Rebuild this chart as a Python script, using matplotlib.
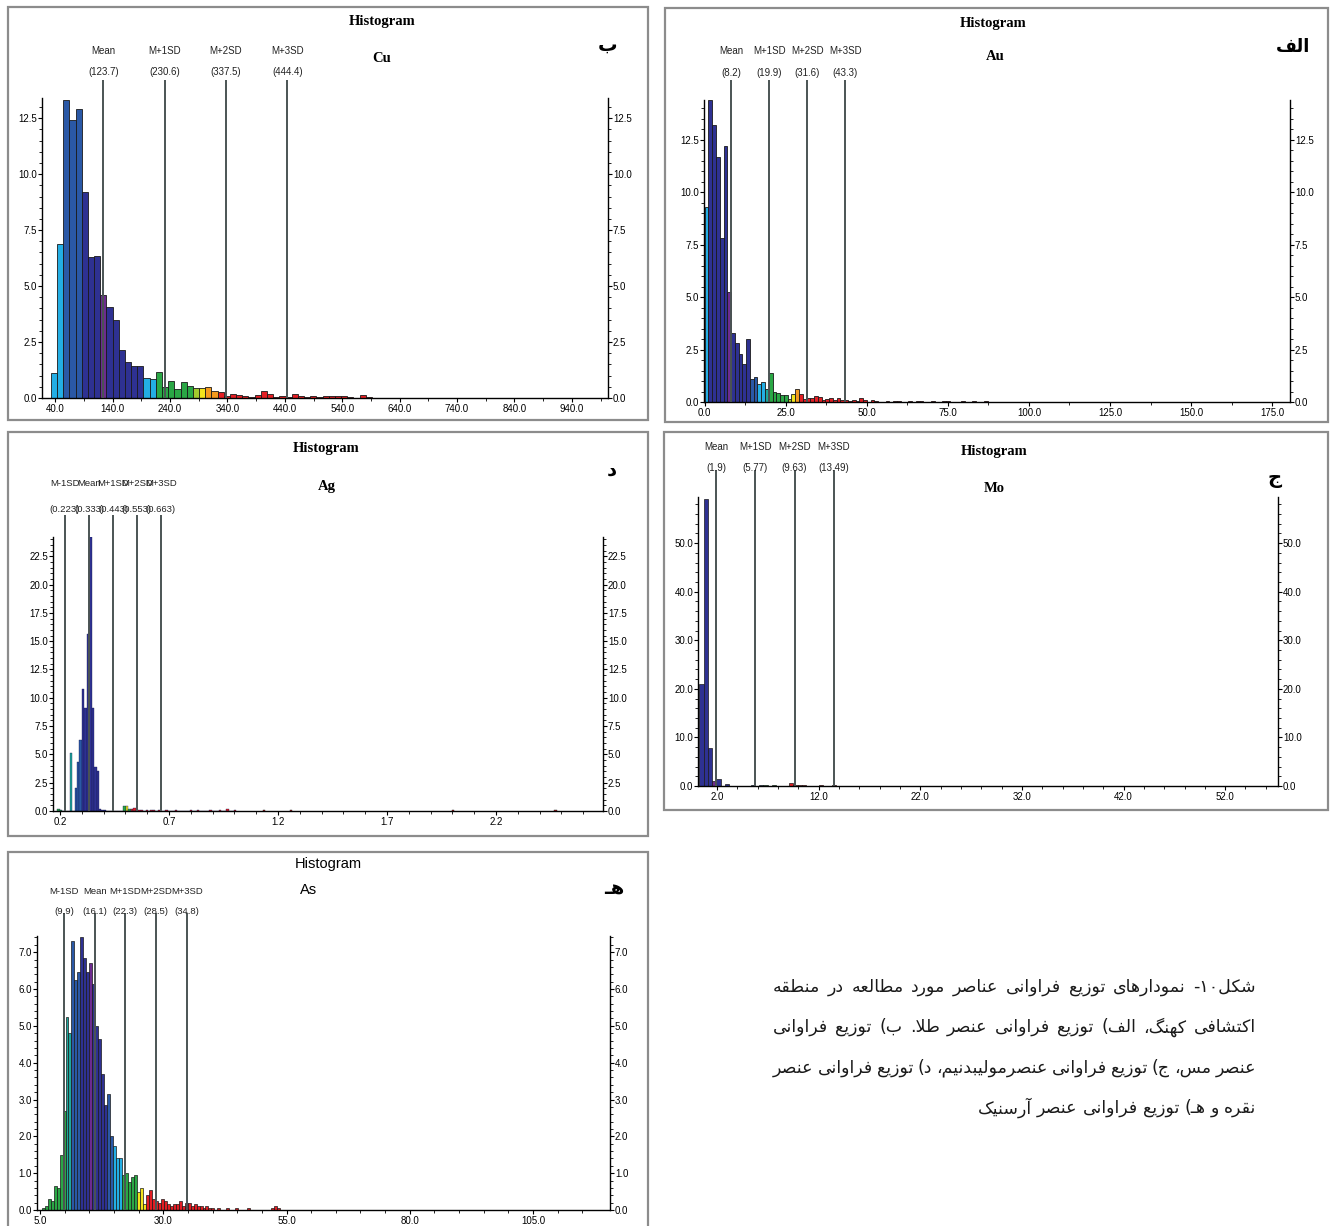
import numpy as np
import matplotlib
matplotlib.use('Agg')
import matplotlib.pyplot as plt
from matplotlib.patches import Rectangle
from matplotlib.ticker import FixedLocator, MultipleLocator, FormatStrFormatter

plt.rcParams['font.family'] = ['Liberation Sans', 'DejaVu Sans']

W, H = 1332, 1226

# ---- data (frequency %, one value per class) ----
cu_start, cu_width = 32.4, 10.76
cu_counts = [1.1, 6.9, 13.3, 12.4, 12.9, 9.2, 6.3, 6.35, 4.6, 4.05, 3.5, 2.15, 1.6, 1.45, 1.45,
             0.9, 0.85, 1.15, 0.5, 0.75, 0.4, 0.7, 0.55, 0.45, 0.45, 0.5, 0.3, 0.25, 0.1, 0.2,
             0.12, 0.1, 0.05, 0.12, 0.3, 0.2, 0.05, 0.1, 0.05, 0.2, 0.1, 0.05, 0.1, 0.05, 0.1,
             0.1, 0.1, 0.1, 0.05, 0.0, 0.15, 0.05]
cu_stat_names = ['Mean', 'M+1SD', 'M+2SD', 'M+3SD']
cu_stat_vals = [123.7, 230.6, 337.5, 444.4]

au_start, au_width = 0.0, 1.163
au_counts = [9.3, 14.4, 13.2, 11.7, 7.8, 12.2, 5.25, 3.3, 2.8, 2.3, 1.8, 3.0, 1.1, 1.2, 0.85,
             0.95, 0.6, 1.4, 0.5, 0.45, 0.35, 0.35, 0.15, 0.4, 0.6, 0.4, 0.15, 0.2, 0.2, 0.3,
             0.25, 0.1, 0.15, 0.2, 0.1, 0.2, 0.1, 0.1, 0.05, 0.1, 0.05, 0.2, 0.1, 0.0, 0.1,
             0.05, 0.0, 0.0, 0.05, 0.0, 0.05, 0.05, 0.0, 0.0, 0.05, 0.0, 0.05, 0.05, 0.0, 0.0,
             0.05, 0.0, 0.0, 0.05, 0.05, 0.0, 0.0, 0.0, 0.05, 0.0, 0.0, 0.05, 0.0, 0.0, 0.05]
au_stat_names = ['Mean', 'M+1SD', 'M+2SD', 'M+3SD']
au_stat_vals = [8.2, 19.9, 31.6, 43.3]

ag_start, ag_width = 0.1881, 0.01123
ag_counts = [0.15, 0.05, 0.0, 0.0, 0.0, 5.1, 0.0, 2.0, 4.3, 6.3, 10.8, 9.1, 15.6, 24.2, 9.1,
             3.9, 3.5, 0.2, 0.1, 0.05, 0.0, 0.0, 0.0, 0.0, 0.0, 0.0, 0.0, 0.45, 0.4, 0.2,
             0.15, 0.3, 0.1, 0.05, 0.05, 0.0, 0.05, 0.0, 0.05, 0.05, 0.0, 0.05, 0.0, 0.0, 0.05,
             0.0, 0.0, 0.0, 0.05, 0.0, 0.0, 0.0, 0.0, 0.0, 0.05, 0.0, 0.0, 0.05, 0.0, 0.0,
             0.0, 0.0, 0.05, 0.0, 0.0, 0.0, 0.05, 0.0, 0.0, 0.2, 0.0, 0.0, 0.05]
ag_tail_bins = [84, 95, 161, 203]
ag_tail_counts = [0.05, 0.05, 0.05, 0.05]
ag_stat_names = ['M-1SD', 'Mean', 'M+1SD', 'M+2SD', 'M+3SD']
ag_stat_vals = [0.223, 0.333, 0.443, 0.553, 0.663]

mo_start, mo_width = 0.27, 0.42
mo_counts = [21.0, 59.0, 7.8, 1.0, 1.5, 0.0, 0.5, 0.1, 0.0, 0.1, 0.0, 0.1, 0.15, 0.1, 0.15,
             0.15, 0.1, 0.15, 0.1, 0.1, 0.1, 0.6, 0.3, 0.2, 0.15, 0.1, 0.1, 0.1, 0.15, 0.1,
             0.1, 0.15, 0.1]
mo_stat_names = ['Mean', 'M+1SD', 'M+2SD', 'M+3SD']
mo_stat_vals = [1.9, 5.77, 9.63, 13.49]

as_start, as_width = 5.35, 0.604
as_counts = [0.05, 0.1, 0.3, 0.25, 0.65, 0.6, 1.5, 2.7, 5.25, 4.8, 7.3, 6.25, 6.45, 7.4, 6.85,
             6.45, 6.7, 6.15, 5.0, 4.65, 3.7, 2.85, 3.15, 2.0, 1.75, 1.4, 1.4, 0.95, 1.0, 0.75,
             0.9, 0.95, 0.5, 0.6, 0.15, 0.4, 0.55, 0.3, 0.25, 0.2, 0.3, 0.25, 0.15, 0.1, 0.15,
             0.15, 0.25, 0.1, 0.2, 0.2, 0.1, 0.15, 0.1, 0.1, 0.05, 0.1, 0.05, 0.05, 0.0, 0.05,
             0.0, 0.0, 0.05, 0.0, 0.0, 0.05, 0.0, 0.0, 0.0, 0.05, 0.0, 0.0, 0.0, 0.0, 0.0,
             0.0, 0.0, 0.05, 0.1, 0.05]
as_stat_names = ['M-1SD', 'Mean', 'M+1SD', 'M+2SD', 'M+3SD']
as_stat_vals = [9.9, 16.1, 22.3, 28.5, 34.8]

# class colour codes (one letter per bar, the last letter repeats)
cu_codes = 'CCBBBNNNPNNNNNNCCGGGGGGLYOOR'
au_codes = 'CNNNNNPNNNNNBBCCTGGGGGLYOR'
ag_codes = 'GGGGGTTBBBNNNNNNNNNNNNNNNNNGYGR'
mo_codes = 'NNNPNNNBBBBBBBBGGGGGGR'
as_codes = 'GGGGGGGGTTBBBNNNPNNNNNBBCCCGGGGGYYYR'

PAL = {'C': '#23aee4', 'T': '#1ea79b', 'B': '#2a58a6', 'N': '#2e3192', 'P': '#6d2b8f',
       'G': '#2aa745', 'L': '#a3c92e', 'Y': '#f2e31c', 'O': '#f39a1e', 'R': '#e31e24'}

caption_lines = [
    'شکل۱۰- نمودارهای توزیع فراوانی عناصر مورد مطالعه در منطقه',
    'اکتشافی کهنگ، الف) توزیع فراوانی عنصر طلا. ب) توزیع فراوانی',
    'عنصر مس، ج) توزیع فراوانی عنصرمولیبدنیم، د) توزیع فراوانی عنصر',
    'نقره و هـ) توزیع فراوانی عنصر آرسنیک',
]

# ---- minimal Persian shaping (matplotlib has no complex text layout) ----
FORMS = {
    'ا': ('\uFE8D', '\uFE8E', None, None), 'آ': ('\uFE81', '\uFE82', None, None),
    'ب': ('\uFE8F', '\uFE90', '\uFE91', '\uFE92'), 'ت': ('\uFE95', '\uFE96', '\uFE97', '\uFE98'),
    'ج': ('\uFE9D', '\uFE9E', '\uFE9F', '\uFEA0'), 'د': ('\uFEA9', '\uFEAA', None, None),
    'ر': ('\uFEAD', '\uFEAE', None, None), 'ز': ('\uFEAF', '\uFEB0', None, None),
    'س': ('\uFEB1', '\uFEB2', '\uFEB3', '\uFEB4'), 'ش': ('\uFEB5', '\uFEB6', '\uFEB7', '\uFEB8'),
    'ص': ('\uFEB9', '\uFEBA', '\uFEBB', '\uFEBC'), 'ط': ('\uFEC1', '\uFEC2', '\uFEC3', '\uFEC4'),
    'ع': ('\uFEC9', '\uFECA', '\uFECB', '\uFECC'), 'ف': ('\uFED1', '\uFED2', '\uFED3', '\uFED4'),
    'ق': ('\uFED5', '\uFED6', '\uFED7', '\uFED8'), 'ل': ('\uFEDD', '\uFEDE', '\uFEDF', '\uFEE0'),
    'م': ('\uFEE1', '\uFEE2', '\uFEE3', '\uFEE4'), 'ن': ('\uFEE5', '\uFEE6', '\uFEE7', '\uFEE8'),
    'ه': ('\uFEE9', '\uFEEA', '\uFEEB', '\uFEEC'), 'و': ('\uFEED', '\uFEEE', None, None),
    'ی': ('\uFBFC', '\uFBFD', '\uFBFE', '\uFBFF'), 'ک': ('\uFB8E', '\uFB8F', '\uFB90', '\uFB91'),
    'گ': ('\uFB92', '\uFB93', '\uFB94', '\uFB95'), 'ـ': ('ـ', 'ـ', 'ـ', 'ـ'),
}


def shape(text):
    out = []
    prev_dual = False
    i = 0
    while i < len(text):
        c = text[i]
        nxt = text[i + 1] if i + 1 < len(text) else ''
        if c == 'ل' and nxt in ('ا', 'آ'):
            lig = ('\uFEFB', '\uFEFC') if nxt == 'ا' else ('\uFEF5', '\uFEF6')
            out.append(lig[1] if prev_dual else lig[0])
            prev_dual = False
            i += 2
            continue
        if c in FORMS:
            f = FORMS[c]
            dual = f[2] is not None
            to_next = dual and nxt in FORMS
            if prev_dual and to_next:
                g = f[3]
            elif prev_dual:
                g = f[1]
            elif to_next:
                g = f[2]
            else:
                g = f[0]
            out.append(g)
            prev_dual = dual
        else:
            out.append(c)
            prev_dual = False
        i += 1
    return out


def visual(text):
    runs = []
    for ch in shape(text):
        if ch.isdigit() and runs and runs[-1][0] == 'd':
            runs[-1][1] += ch
        elif ch.isdigit():
            runs.append(['d', ch])
        else:
            runs.append(['r', {'(': ')', ')': '('}.get(ch, ch)])
    return ''.join(r[1] for r in reversed(runs))


fig = plt.figure(figsize=(W / 100, H / 100), dpi=100)
fig.patch.set_facecolor('white')


def fx(px):
    return px / W


def fy(py):
    return 1 - py / H


def frame(x0, y0, x1, y1):
    fig.add_artist(Rectangle((fx(x0), fy(y1)), (x1 - x0) / W, (y1 - y0) / H,
                             transform=fig.transFigure, fill=False, ec='#8c8c8c', lw=1.6))


def hist_panel(box, start, width, counts, codes, names, vals, xlim, ylim, xticks, xminor,
               ymajor, yminor, xfmt, line_top, name_y, val_y, edge_lw=0.6, label_size=7,
               edge_color='#1a1a1a'):
    left, right, top, bottom = box
    ax = fig.add_axes([fx(left), fy(bottom), (right - left) / W, (bottom - top) / H])
    n = len(counts)
    codes = codes.ljust(n, codes[-1])
    x = start + width * np.arange(n)
    ax.bar(x, counts, width=width, align='edge', color=[PAL[c] for c in codes[:n]],
           edgecolor=edge_color, linewidth=edge_lw, zorder=2)
    ax.set_xlim(*xlim)
    ax.set_ylim(*ylim)
    h = bottom - top
    ax.vlines(vals, 0, (bottom - line_top) / h, transform=ax.get_xaxis_transform(),
              colors='#4b5454', lw=1.4, clip_on=False, zorder=3)
    for nm, v in zip(names, vals):
        ax.text(v, (bottom - name_y) / h, nm, transform=ax.get_xaxis_transform(),
                ha='center', va='center', fontsize=label_size, color='#222222')
        ax.text(v, (bottom - val_y) / h, '(%s)' % ('%g' % v), transform=ax.get_xaxis_transform(),
                ha='center', va='center', fontsize=label_size, color='#222222')
    ax.spines['top'].set_visible(False)
    for s in ('left', 'right', 'bottom'):
        ax.spines[s].set_linewidth(1.0)
    ax.xaxis.set_major_locator(FixedLocator(xticks))
    ax.xaxis.set_minor_locator(FixedLocator(xminor))
    ax.xaxis.set_major_formatter(FormatStrFormatter(xfmt))
    ax.yaxis.set_major_locator(MultipleLocator(ymajor))
    ax.yaxis.set_minor_locator(MultipleLocator(yminor))
    ax.yaxis.set_major_formatter(FormatStrFormatter('%.1f'))
    ax.tick_params(axis='y', which='both', left=True, right=True, labelleft=True,
                   labelright=True, direction='out', labelsize=7, pad=0.5)
    ax.tick_params(axis='y', which='major', length=3)
    ax.tick_params(axis='y', which='minor', length=2)
    ax.tick_params(axis='x', which='major', length=3, labelsize=7, pad=1)
    ax.tick_params(axis='x', which='minor', length=2)
    ax.set_facecolor('none')
    return ax


serif = 'Liberation Serif'

# ب : Cu
frame(8, 7, 648, 420)
hist_panel((42, 608, 98, 398), cu_start, cu_width, cu_counts, cu_codes, cu_stat_names,
           cu_stat_vals, (17, 1003), (0, 13.4), np.arange(40, 1000, 100),
           np.arange(90, 1000, 100), 2.5, 0.5, '%.1f', 80, 51, 72)
fig.text(fx(382), fy(22), 'Histogram', family=serif, weight='bold', fontsize=10.5,
         ha='center', va='center')
fig.text(fx(382), fy(58), 'Cu', family=serif, weight='bold', fontsize=10.5,
         ha='center', va='center')
fig.text(fx(608), fy(45), visual('ب'), family='DejaVu Sans', weight='bold', fontsize=14,
         ha='center', va='center')

# الف : Au
frame(665, 8, 1328, 422)
hist_panel((704, 1290, 100, 402), au_start, au_width, au_counts, au_codes, au_stat_names,
           au_stat_vals, (-0.2, 180.5), (0, 14.4), np.arange(0, 180, 25),
           np.arange(12.5, 180, 25), 2.5, 0.5, '%.1f', 80, 51, 73)
fig.text(fx(993), fy(24), 'Histogram', family=serif, weight='bold', fontsize=10.5,
         ha='center', va='center')
fig.text(fx(995), fy(57), 'Au', family=serif, weight='bold', fontsize=10.5,
         ha='center', va='center')
fig.text(fx(1293), fy(47), visual('الف'), family='DejaVu Sans', weight='bold', fontsize=13,
         ha='center', va='center')

# د : Ag
frame(8, 432, 648, 836)
ax_ag = hist_panel((53, 603, 537, 811), ag_start, ag_width, ag_counts, ag_codes,
                   ag_stat_names, ag_stat_vals, (0.168, 2.691), (0, 24.2),
                   np.arange(0.2, 2.6, 0.5), np.arange(0.3, 2.7, 0.1), 2.5, 0.5, '%.1f',
                   515, 483, 510, edge_lw=0.25, label_size=6.8, edge_color='#14174a')
ax_ag.bar(ag_start + ag_width * np.array(ag_tail_bins), ag_tail_counts, width=ag_width,
          align='edge', color=PAL['R'], edgecolor='#1a1a1a', linewidth=0.3, zorder=2)
fig.text(fx(326), fy(448), 'Histogram', family=serif, weight='bold', fontsize=10.5,
         ha='center', va='center')
fig.text(fx(327), fy(486), 'Ag', family=serif, weight='bold', fontsize=10.5,
         ha='center', va='center')
fig.text(fx(612), fy(470), visual('د'), family='DejaVu Sans', weight='bold', fontsize=14,
         ha='center', va='center')

# ج : Mo
frame(664, 432, 1328, 810)
hist_panel((698, 1278, 497, 786), mo_start, mo_width, mo_counts, mo_codes, mo_stat_names,
           mo_stat_vals, (0.13, 57.2), (0, 59.5), np.arange(2, 60, 10), np.arange(4, 58, 2),
           10, 2, '%.1f', 470, 447, 468, edge_lw=0.5)
fig.text(fx(994), fy(452), 'Histogram', family=serif, weight='bold', fontsize=10.5,
         ha='center', va='center')
fig.text(fx(994), fy(488), 'Mo', family=serif, weight='bold', fontsize=10.5,
         ha='center', va='center')
fig.text(fx(1275), fy(478), visual('ج'), family='DejaVu Sans', weight='bold', fontsize=14,
         ha='center', va='center')

# هـ : As
frame(8, 852, 648, 1232)
hist_panel((37, 610, 936, 1210), as_start, as_width, as_counts, as_codes, as_stat_names,
           as_stat_vals, (4.4, 120.6), (0, 7.44), np.arange(5, 120, 25),
           np.arange(10, 120, 5), 1.0, 0.2, '%.1f', 913, 892, 911, edge_lw=0.5,
           label_size=6.8)
fig.text(fx(328), fy(864), 'Histogram', fontsize=10.5, ha='center', va='center')
fig.text(fx(309), fy(890), 'As', fontsize=10.5, ha='center', va='center')
fig.text(fx(614), fy(889), visual('هـ'), family='DejaVu Sans', weight='bold', fontsize=14,
         ha='center', va='center')

# caption, justified right-to-left word by word
cap_left, cap_right = 773, 1256
cap_y = [987, 1027, 1068, 1108]
renderer = fig.canvas.get_renderer()
for li, line in enumerate(caption_lines):
    words = line.split(' ')
    texts = [fig.text(0, 0, visual(w), family='DejaVu Sans', fontsize=12.5, va='center',
                      color='#1a1a1a') for w in words]
    widths = [t.get_window_extent(renderer).width for t in texts]
    if li < len(caption_lines) - 1:
        gap = (cap_right - cap_left - sum(widths)) / (len(words) - 1)
    else:
        gap = 5
    xpos = cap_right
    for t, wd in zip(texts, widths):
        t.set_position((fx(xpos - wd), fy(cap_y[li])))
        xpos -= wd + gap

fig.savefig('out.png', dpi=100, facecolor='white')
